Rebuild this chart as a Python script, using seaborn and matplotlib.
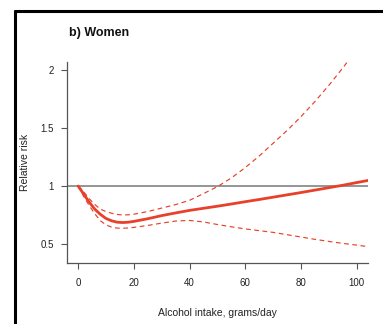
import matplotlib
matplotlib.use("Agg")
import matplotlib.pyplot as plt
from matplotlib.lines import Line2D
import seaborn as sns
import pandas as pd

# ---- data ----
intake = [0, 2, 4, 6, 8, 10, 12, 14, 16, 18, 20, 25, 30, 35, 40, 45, 50, 55,
          60, 65, 70, 75, 80, 85, 90, 95, 100, 104]
rr = [1.0, 0.93, 0.86, 0.80, 0.755, 0.72, 0.70, 0.688, 0.685, 0.688, 0.695,
      0.718, 0.745, 0.768, 0.79, 0.808, 0.826, 0.845, 0.865, 0.884, 0.904,
      0.924, 0.944, 0.965, 0.986, 1.007, 1.03, 1.048]
upper = [1.0, 0.95, 0.89, 0.84, 0.80, 0.78, 0.765, 0.755, 0.75, 0.752, 0.757,
         0.78, 0.81, 0.84, 0.877, 0.935, 0.995, 1.07, 1.16, 1.26, 1.37, 1.48,
         1.60, 1.73, 1.87, 2.02, 2.18, 2.31]
lower = [1.0, 0.91, 0.83, 0.76, 0.70, 0.665, 0.645, 0.637, 0.636, 0.638, 0.643,
         0.66, 0.68, 0.698, 0.703, 0.69, 0.668, 0.648, 0.63, 0.615, 0.60, 0.58,
         0.56, 0.54, 0.522, 0.505, 0.49, 0.477]
xticks = [0, 20, 40, 60, 80, 100]
yticks = [0.5, 1, 1.5, 2]
yticklabels = ["0.5", "1", "1.5", "2"]
title = "b) Women"
xlabel = "Alcohol intake, grams/day"
ylabel = "Relative risk"

df = pd.DataFrame({"x": intake, "rr": rr, "upper": upper, "lower": lower})

sns.set_style("ticks")
plt.rcParams["font.family"] = ["Liberation Sans", "DejaVu Sans"]

fig = plt.figure(figsize=(3.83, 3.24), dpi=100)
ax = fig.add_axes([67 / 383, 1 - 263 / 324, (368 - 67) / 383, (263 - 62) / 324])

red = "#E8402A"
ax.axhline(1, color="#8c8c8c", lw=1.3, zorder=1)
sns.lineplot(data=df, x="x", y="upper", ax=ax, color=red, lw=0.85,
             linestyle=(0, (4, 3)), zorder=2)
sns.lineplot(data=df, x="x", y="lower", ax=ax, color=red, lw=0.85,
             linestyle=(0, (4, 3)), zorder=2)
sns.lineplot(data=df, x="x", y="rr", ax=ax, color=red, lw=2.0, zorder=3)

ax.set_xlim(-4, 104)
ax.set_ylim(0.336, 2.07)
ax.set_xticks(xticks)
ax.set_xticklabels([str(t) for t in xticks])
ax.set_yticks(yticks)
ax.set_yticklabels(yticklabels)

for side in ["top", "right"]:
    ax.spines[side].set_visible(False)
for side in ["left", "bottom"]:
    ax.spines[side].set_color("#555555")
    ax.spines[side].set_linewidth(0.9)
ax.tick_params(axis="both", colors="#555555", labelcolor="#222222",
               length=4.3, width=0.8, labelsize=7)
ax.tick_params(axis="x", pad=6.5)
ax.tick_params(axis="y", pad=5)

ax.set_xlabel(xlabel, fontsize=7.5, color="#222222")
ax.set_ylabel(ylabel, fontsize=7.5, color="#222222")
ax.xaxis.set_label_coords(0.5, (263 - 307.5) / 201)
ax.yaxis.set_label_coords((30 - 67) / 301, 0.5)

ax.text(0.005, (263 - 33) / 201, title, transform=ax.transAxes,
        fontsize=9, fontweight="bold", ha="left", va="center", color="#111111")

# outer frame fragment (top and left borders)
fig.add_artist(Line2D([14.5 / 383, 1.0], [1 - 11 / 324, 1 - 11 / 324],
                      transform=fig.transFigure, color="black", lw=2.2))
fig.add_artist(Line2D([14.5 / 383, 14.5 / 383], [0, 1 - 11 / 324],
                      transform=fig.transFigure, color="black", lw=2.2))

fig.savefig("out.png", dpi=100)
